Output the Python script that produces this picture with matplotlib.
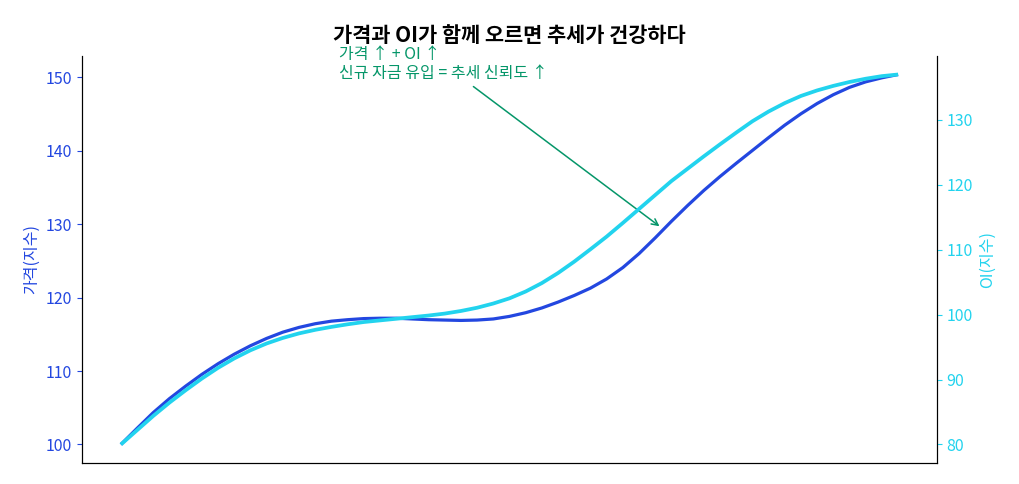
import numpy as np
import matplotlib
matplotlib.use("Agg")
import matplotlib.pyplot as plt

plt.rcParams['font.family'] = ['Noto Sans CJK KR', 'DejaVu Sans']
plt.rcParams['axes.unicode_minus'] = False

# values (index 0..48)
price = [100.0, 102.2, 104.35, 106.25, 107.95, 109.55, 111.0, 112.3, 113.45, 114.45,
         115.3, 115.95, 116.45, 116.8, 117.0, 117.15, 117.2, 117.2, 117.1, 117.0,
         116.95, 116.9, 116.95, 117.1, 117.45, 117.95, 118.6, 119.4, 120.3, 121.3,
         122.55, 124.1, 126.0, 128.15, 130.4, 132.55, 134.6, 136.5, 138.3, 140.05,
         141.8, 143.5, 145.05, 146.45, 147.65, 148.65, 149.4, 149.95, 150.4]
oi = [80.0, 82.2, 84.4, 86.45, 88.35, 90.15, 91.8, 93.25, 94.5, 95.55,
      96.4, 97.1, 97.65, 98.1, 98.5, 98.85, 99.1, 99.35, 99.6, 99.85,
      100.15, 100.55, 101.05, 101.7, 102.5, 103.55, 104.85, 106.4, 108.15, 110.05,
      112.0, 114.1, 116.25, 118.4, 120.55, 122.45, 124.35, 126.2, 128.0, 129.75,
      131.25, 132.55, 133.65, 134.5, 135.2, 135.8, 136.3, 136.7, 136.95]
steps = np.arange(len(price))

title = "가격과 OI가 함께 오르면 추세가 건강하다"
price_label = "가격(지수)"
oi_label = "OI(지수)"
note = "가격 ↑ + OI ↑\n신규 자금 유입 = 추세 신뢰도 ↑"

blue = '#2347e0'
cyan = '#22d3ee'
green = '#059669'

fig = plt.figure(figsize=(10.19, 4.84), dpi=100)
ax = fig.add_axes([0.0805, 0.0434, 0.839, 0.8409])
ax2 = ax.twinx()

ax.plot(steps, price, color=blue, lw=2.3, solid_capstyle='butt', solid_joinstyle='round')
ax2.plot(steps, oi, color=cyan, lw=2.7, solid_capstyle='butt', solid_joinstyle='round')

ax.set_xticks([])
ax.set_ylabel(price_label, color=blue, fontsize=11.5)
ax2.set_ylabel(oi_label, color=cyan, fontsize=11.5)
ax.tick_params(axis='y', colors=blue, labelsize=11.5)
ax2.tick_params(axis='y', colors=cyan, labelsize=11.5)
ax.set_yticks([100, 110, 120, 130, 140, 150])
ax2.set_yticks([80, 90, 100, 110, 120, 130])

for a in (ax, ax2):
    a.spines['top'].set_visible(False)
    for s in ('left', 'right', 'bottom'):
        a.spines[s].set_color('black')

ax.set_title(title, fontsize=15, fontweight='bold', pad=10)

# arrow target sits between the two lines
ax.annotate(note, xy=(33.4, 129.5), xytext=(13.45, 154.35),
            textcoords='data', ha='left', va='top', color=green, fontsize=11.5,
            linespacing=1.2,
            arrowprops=dict(arrowstyle='->', color=green, lw=1.1),
            annotation_clip=False)

fig.savefig('out.png', dpi=100)
